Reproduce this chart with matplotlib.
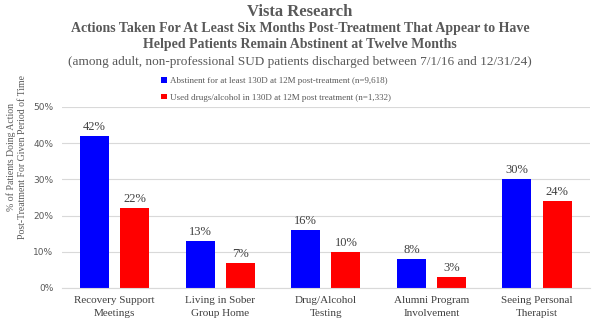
import matplotlib
matplotlib.use("Agg")
import matplotlib.pyplot as plt
import numpy as np

categories = ["Recovery Support\nMeetings", "Living in Sober\nGroup Home", "Drug/Alcohol\nTesting",
              "Alumni Program\nInvolvement", "Seeing Personal\nTherapist"]
abstinent = [42, 13, 16, 8, 30]
used = [22, 7, 10, 3, 24]
series_names = ["Abstinent for at least 130D at 12M post-treatment (n=9,618)",
                "Used drugs/alcohol in 130D at 12M post treatment (n=1,332)"]

serif = "Liberation Serif"
grey = "#595959"

fig = plt.figure(figsize=(6, 3.28), dpi=100)
ax = fig.add_axes([0.103, 0.122, 0.880, 0.552])

x = np.arange(len(categories))
w = 0.275
b1 = ax.bar(x - 0.19, abstinent, w, color="#0000ff", label=series_names[0])
b2 = ax.bar(x + 0.19, used, w, color="#ff0000", label=series_names[1])
for bars in (b1, b2):
    for r in bars:
        ax.text(r.get_x() + r.get_width() / 2, r.get_height() + 0.8, f"{int(r.get_height())}%",
                ha="center", va="bottom", fontsize=9, color="#404040", family=serif)

ax.set_xlim(-0.5, len(categories) - 0.5)
ax.set_ylim(0, 50)
ax.set_yticks(range(0, 51, 10))
ax.set_yticklabels([f"{v}%" for v in range(0, 51, 10)], fontsize=6.5, color=grey)
ax.set_xticks(x)
ax.set_xticklabels(categories, fontsize=8, color="#404040", family=serif, linespacing=1.5)
ax.tick_params(length=0, pad=6)
ax.yaxis.grid(True, color="#d9d9d9", linewidth=0.8)
ax.set_axisbelow(True)
for s in ["top", "right", "left"]:
    ax.spines[s].set_visible(False)
ax.spines["bottom"].set_color("#d9d9d9")
fig.text(0.027, 0.52, "% of Patients Doing Action\nPost-Treatment For Given Period of Time",
         rotation=90, ha="center", va="center", fontsize=7, color=grey, family=serif,
         linespacing=1.3)

fig.text(0.5, 0.963, "Vista Research", ha="center", va="center", fontsize=12,
         fontweight="bold", color=grey, family=serif)
fig.text(0.5, 0.889, "Actions Taken For At Least Six Months Post-Treatment That Appear to Have\n"
         "Helped Patients Remain Abstinent at Twelve Months", ha="center", va="center",
         fontsize=10, fontweight="bold", color=grey, family=serif, linespacing=1.3)
fig.text(0.5, 0.81, "(among adult, non-professional SUD patients discharged between 7/1/16 and 12/31/24)",
         ha="center", va="center", fontsize=9.5, color=grey, family=serif)

fig.legend(loc="upper left", bbox_to_anchor=(0.255, 0.79), ncol=1, frameon=False,
           handlelength=0.6, handleheight=0.6, handletextpad=0.4,
           labelspacing=0.95, labelcolor=grey, prop={"family": serif, "size": 6.5})

fig.savefig("out.png", dpi=100)
